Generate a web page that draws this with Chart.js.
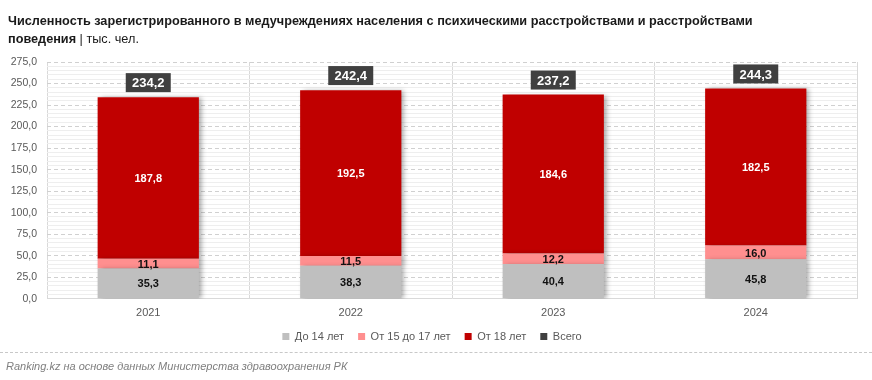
<!DOCTYPE html>
<html>
<head>
<meta charset="utf-8">
<script src="https://cdn.jsdelivr.net/npm/chart.js@4/dist/chart.umd.min.js"></script>
<style>
  html, body { margin: 0; padding: 0; background: #ffffff; }
  #wrap { position: relative; width: 872px; height: 380px; overflow: hidden; }
  #chart { position: absolute; left: 0; top: 0; }
  #title { position: absolute; left: 8px; top: 12px; width: 760px; font-family: "Liberation Sans", Arial, sans-serif; font-size: 12.7px; line-height: 18px; color: #1a1a1a; }
  #title b { font-weight: bold; }
  #footline { position: absolute; left: 0; top: 352px; width: 872px; border-top: 1px dashed #c8c8c8; }
  #source { position: absolute; left: 6px; top: 360px; font-family: "Liberation Sans", Arial, sans-serif; font-style: italic; font-size: 11px; color: #7f7f7f; }
</style>
</head>
<body>
<div id="wrap">
  <canvas id="chart" width="872" height="380"></canvas>
  <div id="title"><b>Численность зарегистрированного в медучреждениях населения с психическими расстройствами и расстройствами поведения</b> | тыс. чел.</div>
  <div id="footline"></div>
  <div id="source">Ranking.kz на основе данных Министерства здравоохранения РК</div>
</div>
<script>
const categories = ['2021', '2022', '2023', '2024'];
const seriesNames = ['До 14 лет', 'От 15 до 17 лет', 'От 18 лет', 'Всего'];
const under14 = [35.3, 38.3, 40.4, 45.8];
const age15to17 = [11.1, 11.5, 12.2, 16.0];
const over18 = [187.8, 192.5, 184.6, 182.5];
const total = [234.2, 242.4, 237.2, 244.3];
const yMin = 0, yMax = 275, yMajor = 25, yMinor = 5;

const FONT = '"Liberation Sans", Arial, sans-serif';
const fmt = v => v.toFixed(1).replace('.', ',');

const shadowPlugin = {
  id: 'barShadow',
  beforeDatasetDraw(chart, args) {
    if (args.meta.type !== 'bar') return;
    const ctx = chart.ctx;
    ctx.save();
    ctx.shadowColor = 'rgba(0,0,0,0.35)';
    ctx.shadowBlur = 5;
    ctx.shadowOffsetX = 3;
    ctx.shadowOffsetY = 1;
  },
  afterDatasetDraw(chart, args) {
    if (args.meta.type !== 'bar') return;
    chart.ctx.restore();
  }
};

const labelPlugin = {
  id: 'valueLabels',
  afterDatasetsDraw(chart) {
    const ctx = chart.ctx;
    ctx.save();
    ctx.textAlign = 'center';
    ctx.textBaseline = 'middle';
    chart.data.datasets.forEach((ds, di) => {
      const meta = chart.getDatasetMeta(di);
      if (meta.hidden) return;
      meta.data.forEach((el, i) => {
        const v = ds.data[i];
        if (meta.type === 'bar') {
          const p = el.getProps(['x', 'y', 'base'], true);
          const cy = (p.y + p.base) / 2;
          ctx.font = 'bold 11px ' + FONT;
          ctx.fillStyle = ds.labelColor;
          ctx.fillText(fmt(v), p.x, cy + 1);
        } else {
          const p = el.getProps(['x', 'y'], true);
          ctx.font = 'bold 13px ' + FONT;
          const w = 45, h = 19;
          const bx = p.x - w / 2, by = p.y - 5 - h;
          ctx.fillStyle = '#404040';
          ctx.fillRect(bx, by, w, h);
          ctx.fillStyle = '#ffffff';
          ctx.fillText(fmt(v), p.x, by + h / 2 + 1);
        }
      });
    });
    ctx.restore();
  }
};

new Chart(document.getElementById('chart'), {
  data: {
    labels: categories,
    datasets: [
      { type: 'bar', label: seriesNames[0], data: under14, backgroundColor: '#bfbfbf', labelColor: '#111111', stack: 's' },
      { type: 'bar', label: seriesNames[1], data: age15to17, backgroundColor: '#ff8f8f', labelColor: '#111111', stack: 's' },
      { type: 'bar', label: seriesNames[2], data: over18, backgroundColor: '#c00000', labelColor: '#ffffff', stack: 's' },
      { type: 'line', label: seriesNames[3], data: total, backgroundColor: '#404040', borderColor: '#404040', borderWidth: 0, showLine: false, pointRadius: 0, pointHoverRadius: 0, stack: 'total' }
    ]
  },
  options: {
    responsive: false,
    animation: false,
    events: [],
    layout: { padding: { top: 62, left: 7, right: 15, bottom: 28 } },
    datasets: { bar: { categoryPercentage: 1, barPercentage: 0.5 } },
    plugins: {
      legend: {
        position: 'bottom',
        labels: {
          boxWidth: 7, boxHeight: 7, padding: 14,
          color: '#595959',
          font: { family: FONT, size: 11 }
        }
      },
      tooltip: { enabled: false },
      title: { display: false }
    },
    scales: {
      x: {
        stacked: true,
        offset: true,
        afterFit(scale) { scale.height -= 11; },
        grid: { offset: true, color: '#d9d9d9', lineWidth: 1, drawTicks: false },
        border: { display: true, color: '#d9d9d9' },
        ticks: { color: '#595959', font: { family: FONT, size: 11 }, padding: 8 }
      },
      y: {
        stacked: true,
        min: yMin, max: yMax,
        afterFit(scale) { scale.width = 40; },
        grid: {
          drawTicks: false,
          color: ctx => (ctx.tick && Math.round(ctx.tick.value) % yMajor === 0) ? '#d0d0d0' : '#eeeeee',
          lineWidth: 1
        },
        border: {
          display: false,
          dash: ctx => (ctx.tick && Math.round(ctx.tick.value) % yMajor === 0) ? [4, 3] : []
        },
        ticks: {
          stepSize: yMinor,
          autoSkip: false,
          padding: 10,
          color: '#595959',
          font: { family: FONT, size: 10.5 },
          callback: v => (Math.round(v) % yMajor === 0) ? fmt(v) : ''
        }
      }
    }
  },
  plugins: [shadowPlugin, labelPlugin]
});
</script>
</body>
</html>
